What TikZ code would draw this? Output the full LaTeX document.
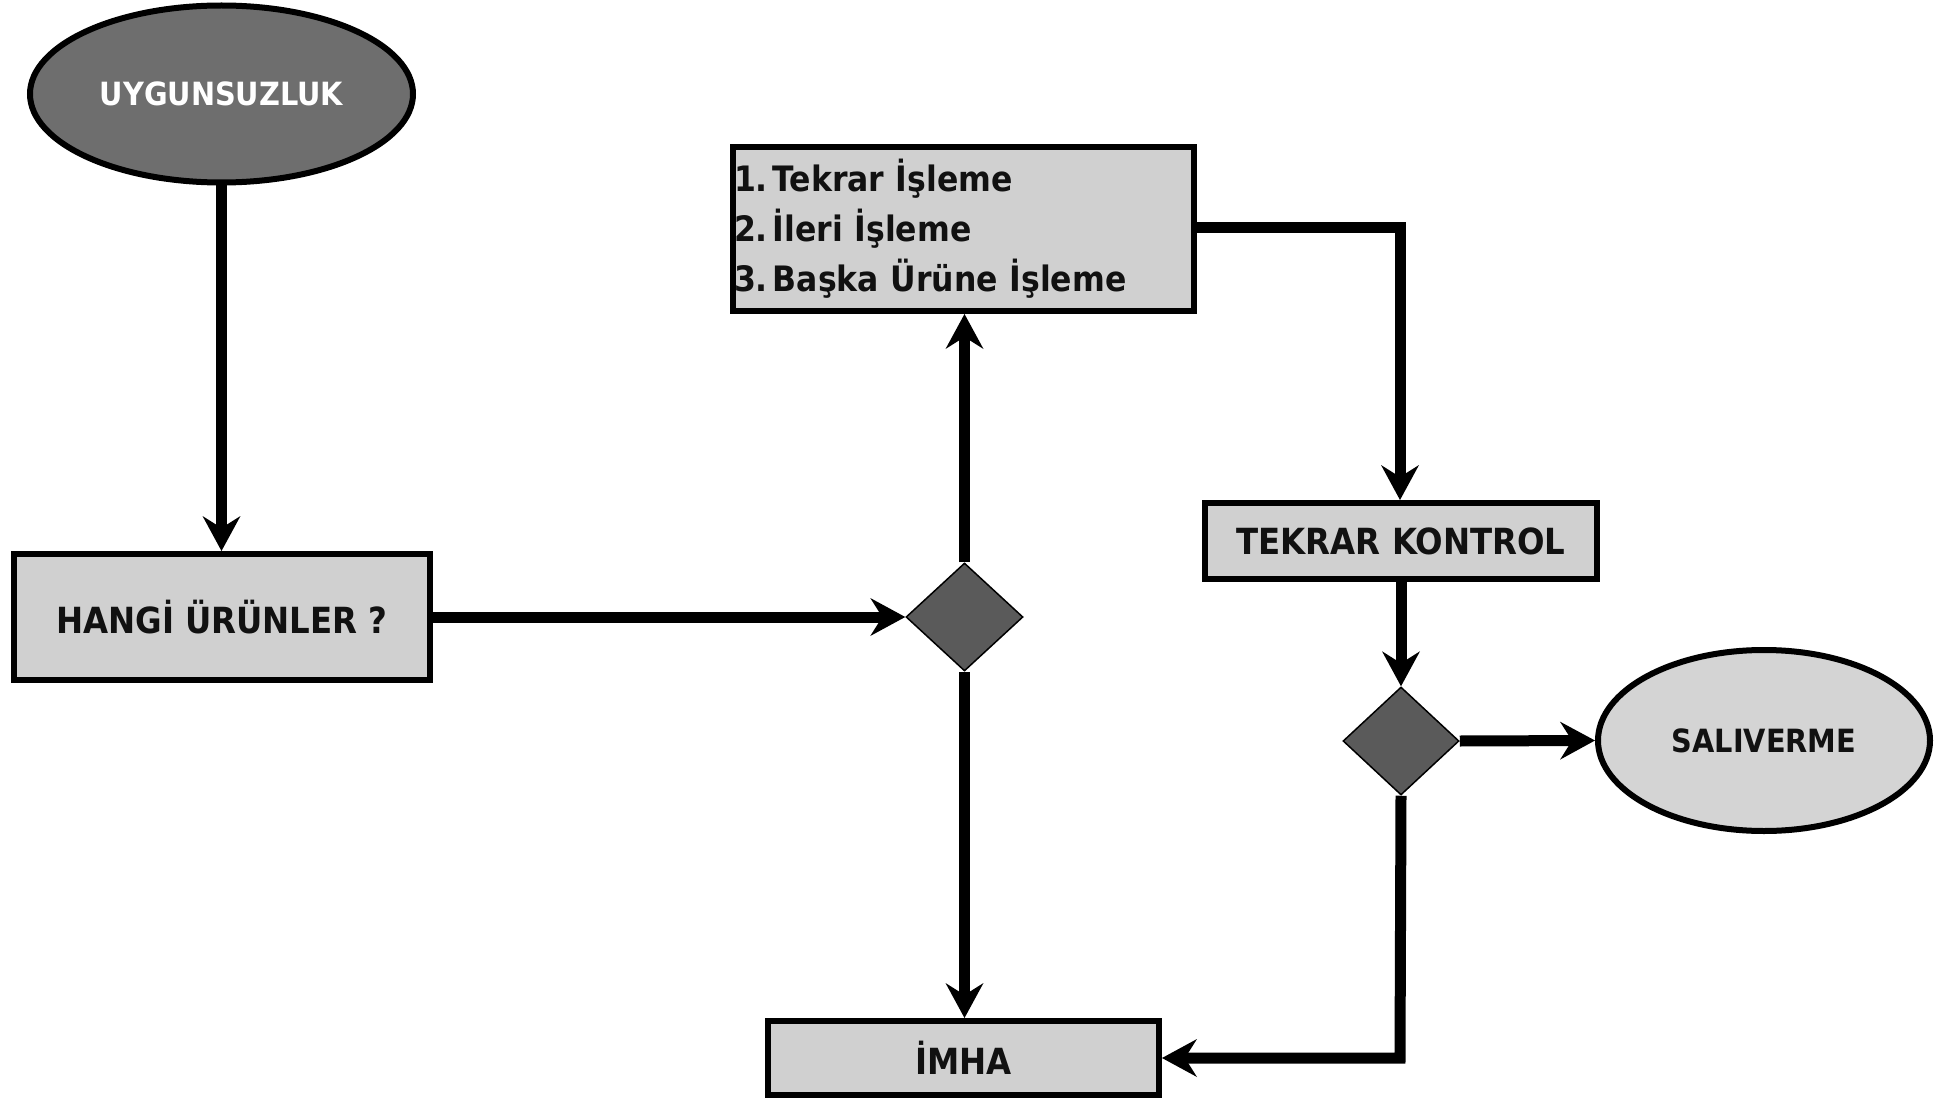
\documentclass[tikz,border=0pt]{standalone}
\usepackage{fontspec}
\setmainfont{DejaVu Sans Condensed}
\usetikzlibrary{shapes.geometric,arrows.meta}
\definecolor{darkfill}{HTML}{6E6E6E}
\definecolor{diafill}{HTML}{5A5A5A}
\definecolor{boxfill}{HTML}{D0D0D0}
\definecolor{ellfill}{HTML}{D4D4D4}
\definecolor{txt}{HTML}{111111}
\newcommand{\numgap}{\hspace{5pt}}
\tikzset{
  boxnode/.style={draw=black, line width=6pt, fill=boxfill, rectangle, inner sep=0pt,
    text=txt, font=\fontsize{36pt}{50pt}\selectfont\bfseries},
  ellnode/.style={draw=black, line width=6pt, ellipse, inner sep=0pt,
    font=\fontsize{32pt}{40pt}\selectfont\bfseries},
  decnode/.style={draw=black, line width=1.5pt, fill=diafill, diamond, inner sep=0pt,
    minimum width=116pt, minimum height=108pt},
  conn/.style={line width=11pt, -{Stealth[length=35pt,width=38pt,inset=12pt,line width=0pt]}}
}
\begin{document}
\begin{tikzpicture}[x=1pt,y=-1pt]
\useasboundingbox (0,0) rectangle (1955,1102);
\node[ellnode, fill=darkfill, text=white, minimum width=383pt, minimum height=177pt] (uyg) at (221.5,94) {UYGUNSUZLUK};
\node[boxnode, minimum width=416pt, minimum height=126pt] (hangi) at (222,617) {HANGİ ÜRÜNLER ?};
\node[boxnode, minimum width=461pt, minimum height=164pt, text width=461pt, align=left, inner xsep=0pt,
  font=\fontsize{35pt}{50pt}\selectfont\bfseries] (steps) at (963.5,229)
  {\hspace*{1pt}1.\numgap Tekrar İşleme\\\hspace*{1pt}2.\numgap İleri İşleme\\\hspace*{1pt}3.\numgap Başka Ürüne İşleme};
\node[decnode, minimum width=117pt] (d1) at (964.5,617) {};
\node[boxnode, minimum width=392pt, minimum height=76pt] (tk) at (1401,541) {TEKRAR KONTROL};
\node[decnode] (d2) at (1401,741) {};
\node[ellnode, fill=ellfill, text=txt, minimum width=332pt, minimum height=181pt] (sal) at (1764,740.5) {SALIVERME};
\node[boxnode, minimum width=391pt, minimum height=74pt] (imha) at (963.5,1058) {İMHA};
\coordinate (c1) at (1400,228);
\coordinate (c2) at (1400,1058);
\draw[conn] (uyg.south) -- (uyg.south |- hangi.north);
\draw[conn] (hangi.east) -- (d1.west);
\draw[conn] (d1.north) -- (d1.north |- steps.south);
\draw[conn] (d1.south) -- (d1.south |- imha.north);
\draw[conn] (steps.east |- c1) -- (c1) -- (c1 |- tk.north);
\draw[conn] (tk.south -| d2.north) -- (d2.north);
\draw[conn] (d2.east) -- (sal.west);
\draw[conn] (d2.south) -- (c2) -- (imha.east |- c2);
\end{tikzpicture}
\end{document}
